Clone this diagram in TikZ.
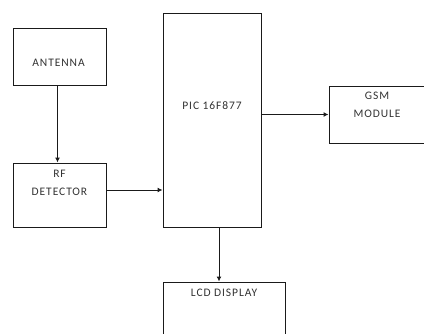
\documentclass[tikz,border=0pt]{standalone}
\usepackage{fontspec}
\newfontfamily\boxfont{Carlito}[LetterSpace=8]
\usepackage{tikz}
\usetikzlibrary{arrows.meta,positioning}
\definecolor{lineblk}{HTML}{1A1A1A}
\definecolor{txtgray}{HTML}{333333}
\tikzset{
  box/.style={draw=lineblk, line width=1pt, inner sep=0pt},
  txt/.style={text=txtgray, align=center, font=\boxfont\fontsize{11.5}{18.5}\selectfont, inner sep=0pt, anchor=north},
  line/.style={-{Latex[length=5pt,width=5pt]}, line width=1pt, draw=lineblk}
}
\begin{document}
\begin{tikzpicture}[x=1pt, y=-1pt]
  \clip (0,0) rectangle (424,333);
  \fill[white] (0,0) rectangle (424,333);

  \node[box, minimum width=93pt, minimum height=57pt] (ant) at (59.5,56.5) {};
  \node[box, minimum width=93pt, minimum height=64pt] (rf) at (59.5,195) {};
  \node[box, minimum width=98pt, minimum height=214pt] (pic) at (212,120) {};
  \node[box, minimum width=96pt, minimum height=57pt] (gsm) at (377,114.5) {};
  \node[box, minimum width=122pt, minimum height=80pt] (lcd) at (224,322) {};

  \node[txt, below=31pt of ant.north, xshift=-1pt] (antlbl) {ANTENNA};
  \node[txt, below=7pt of rf.north] (rflbl) {RF\\DETECTOR};
  \node[txt, below=89pt of pic.north] (piclbl) {PIC 16F877};
  \node[txt, below=6pt of gsm.north] (gsmlbl) {GSM\\MODULE};
  \node[txt, below=7pt of lcd.north] (lcdlbl) {LCD DISPLAY};

  \draw[line] ([xshift=-2pt]ant.south) -- ([xshift=-2pt]rf.north);
  \draw[line] ([yshift=5pt]rf.east) -- ([yshift=5pt]rf.east -| pic.west);
  \draw[line] (gsm.west -| pic.east) -- (gsm.west);
  \draw[line] ([xshift=7pt]pic.south) -- ([xshift=7pt]pic.south |- lcd.north);
\end{tikzpicture}
\end{document}
